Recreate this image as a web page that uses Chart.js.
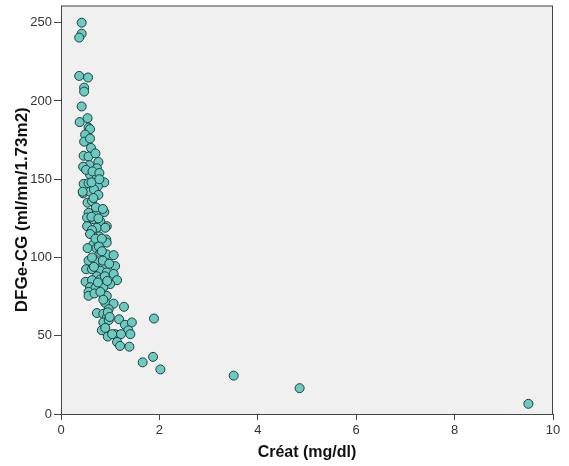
<!DOCTYPE html>
<html>
<head>
<meta charset="utf-8">
<script src="https://cdn.jsdelivr.net/npm/chart.js@4/dist/chart.umd.min.js"></script>
<style>
  html, body { margin: 0; padding: 0; background: #ffffff; }
  canvas { display: block; }
</style>
</head>
<body>
<canvas id="myChart" width="569" height="466"></canvas>
<script>
// Créat (mg/dl) values
const creat = [
  0.42, 0.42, 0.37, 0.37, 0.55, 0.47, 0.47, 0.42, 0.38, 0.54,
  0.56, 0.59, 0.49, 0.47, 0.59, 0.61, 0.46, 0.56, 0.70, 0.58,
  0.45, 0.76, 0.73, 0.59, 0.73, 0.46, 0.56, 0.88, 0.75, 0.45,
  0.59, 0.67, 0.76, 0.54, 0.63, 0.56, 0.73, 0.88, 0.53, 0.66,
  0.80, 0.93, 0.53, 0.73, 0.63, 0.90, 0.59, 0.78, 0.92, 0.93,
  0.66, 0.54, 0.72, 0.80, 0.93, 1.07, 0.56, 0.70, 0.86, 1.10,
  0.51, 0.63, 0.80, 0.93, 1.07, 0.73, 1.14, 0.50, 0.63, 0.80,
  1.00, 0.59, 0.70, 0.86, 0.56, 0.56, 0.93, 0.90, 1.07, 0.97,
  1.28, 0.73, 0.86, 0.93, 0.86, 0.97, 1.18, 1.89, 0.83, 1.30,
  1.44, 1.37, 1.10, 1.22, 1.41, 0.95, 1.14, 1.20, 1.39, 1.66,
  1.87, 2.02, 3.51, 4.85, 9.50,
  0.51, 0.64, 0.78, 0.62, 0.78, 0.44, 0.66, 0.71, 0.85, 0.62,
  0.76, 0.70, 0.83, 0.77, 0.83, 0.63, 0.85, 0.98, 0.67, 0.89,
  0.75, 0.94, 0.68, 0.80, 0.86, 0.95, 0.99, 0.90, 1.04
];
// DFGe-CG (ml/mn/1.73m2) values
const dfg = [
  250, 243, 240.5, 216, 215, 208.5, 206, 196.5, 186.5, 189,
  183, 182, 178.5, 174, 176, 170, 165, 164.5, 166.5, 159,
  158, 161, 157, 153, 152, 147, 147.5, 148, 145.5, 141,
  142, 143.5, 140, 135, 136, 128.5, 129, 129, 125.5, 124.5,
  123, 120, 120, 119, 117.5, 119, 115, 113.5, 111.5, 109.5,
  108.5, 106, 106, 103, 102, 101.5, 98, 97.5, 95.5, 94.5,
  92.5, 92.5, 91.5, 90.5, 89.5, 88, 85.5, 84.5, 85.5, 86,
  83, 81, 80.5, 81, 78, 75.5, 75.5, 71, 70.5, 67,
  68.5, 64.5, 64, 61.5, 58.5, 60, 60.5, 61, 53.5, 57,
  58.5, 53.5, 51, 51, 51, 49.5, 46, 43.5, 43, 33,
  36.5, 28.5, 24.5, 16.5, 6.5,
  156, 155, 154, 148, 150, 142, 138, 132, 131, 126,
  125, 112, 112, 107, 104, 100, 98, 96, 94, 88,
  84, 85, 77, 78, 73, 65, 62, 55, 51
];
const xTicks = [0, 2, 4, 6, 8, 10];
const yTicks = [0, 50, 100, 150, 200, 250];

const points = creat.map((c, i) => ({x: c, y: dfg[i]}));

const tickFont = "'Liberation Sans Narrow', 'Liberation Sans', sans-serif";
const titleFont = "'Liberation Sans', Arial, sans-serif";

const plotBox = {
  id: 'plotBox',
  beforeDraw(chart) {
    const a = chart.chartArea;
    const ctx = chart.ctx;
    ctx.save();
    ctx.fillStyle = '#f0f0f0';
    ctx.fillRect(a.left, a.top, a.right - a.left, a.bottom - a.top);
    ctx.restore();
  },
  afterDraw(chart) {
    const a = chart.chartArea;
    const ctx = chart.ctx;
    ctx.save();
    ctx.strokeStyle = '#444444';
    ctx.lineWidth = 1;
    ctx.strokeRect(a.left + 0.5, a.top + 0.5, a.right - a.left - 1, a.bottom - a.top);
    ctx.restore();
  }
};

function chartIt() {
  const ctx = document.getElementById('myChart').getContext('2d');
  const chart = new Chart(ctx, {
    type: 'scatter',
    data: {
      datasets: [{
        data: points,
        backgroundColor: '#6acbc2',
        borderColor: '#233c3a',
        borderWidth: 1,
        pointRadius: 4.5,
        clip: false
      }]
    },
    options: {
      responsive: false,
      animation: false,
      layout: { padding: { top: 4, right: 16, left: 0, bottom: 0 } },
      plugins: {
        legend: { display: false },
        tooltip: { enabled: false }
      },
      scales: {
        x: {
          type: 'linear',
          min: 0,
          max: 10,
          afterFit(scale) {
            scale.height = 52;
            scale.paddingLeft = 0;
            scale.paddingRight = 0;
          },
          afterBuildTicks(axis) { axis.ticks = xTicks.map(v => ({value: v})); },
          grid: { drawOnChartArea: false, drawTicks: true, tickLength: 6, color: '#444444' },
          border: { display: false },
          ticks: { color: '#333333', padding: 3, maxRotation: 0,
                   font: { family: tickFont, size: 13 } },
          title: { display: true, text: 'Créat (mg/dl)', color: '#111111',
                   padding: { top: 0, bottom: 4 },
                   font: { family: titleFont, size: 16, weight: 'bold' } }
        },
        y: {
          type: 'linear',
          min: 0,
          max: 261,
          afterFit(scale) {
            scale.width = 61;
            scale.paddingTop = 0;
            scale.paddingBottom = 0;
          },
          afterBuildTicks(axis) { axis.ticks = yTicks.map(v => ({value: v})); },
          grid: { drawOnChartArea: false, drawTicks: true, tickLength: 7, color: '#444444' },
          border: { display: false },
          ticks: { color: '#333333', padding: 2,
                   font: { family: tickFont, size: 13 } },
          title: { display: true, text: 'DFGe-CG (ml/mn/1.73m2)', color: '#111111',
                   padding: { top: 12, bottom: 0 },
                   font: { family: titleFont, size: 17, weight: 'bold' } }
        }
      }
    },
    plugins: [plotBox]
  });
}
chartIt();
</script>
</body>
</html>
